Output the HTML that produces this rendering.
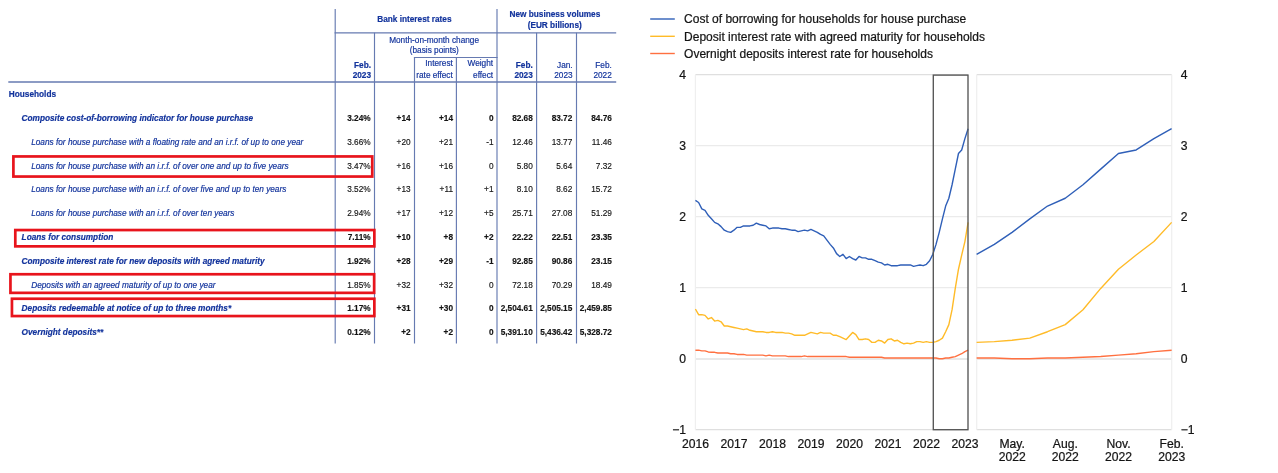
<!DOCTYPE html>
<html lang="en"><head><meta charset="utf-8"><title>Bank interest rates</title>
<style>
html,body{margin:0;padding:0;background:#fff;}
body{width:1278px;height:473px;position:relative;overflow:hidden;font-family:"Liberation Sans",Arial,sans-serif;}
#tbl{position:absolute;left:0;top:0;width:640px;height:360px;will-change:transform;}
#tbl .t{position:absolute;white-space:nowrap;font-size:8.25px;line-height:10px;height:10px;color:#12339c;-webkit-text-stroke:0.18px #12339c;}
#tbl .n{color:#141414;-webkit-text-stroke:0.15px #141414;text-align:right;}
#tbl .r{text-align:right;}
#tbl .c{text-align:center;}
#tbl .b{font-weight:bold;}
#tbl .i{font-style:italic;}
#tbl .vl{position:absolute;width:1px;background:#667ab1;}
#tbl .hl{position:absolute;background:#667ab1;}
svg{position:absolute;left:0;top:0;}
svg text{font-family:"Liberation Sans",Arial,sans-serif;font-size:12px;fill:#141414;stroke:#141414;stroke-width:0.22px;}
svg text.ax{font-size:12.15px;}
</style></head><body>
<div id="tbl">
<div class="t b c" style="top:15px;left:264.40px;width:300px;">Bank interest rates</div>
<div class="t b c" style="top:10px;left:404.90px;width:300px;">New business volumes</div>
<div class="t b c" style="top:21px;left:404.70px;width:300px;">(EUR billions)</div>
<div class="t c" style="top:36px;left:284.10px;width:300px;">Month-on-month change</div>
<div class="t c" style="top:46px;left:284.30px;width:300px;">(basis points)</div>
<div class="t b r" style="top:61px;left:171.00px;width:200px;">Feb.</div>
<div class="t b r" style="top:71px;left:171.00px;width:200px;">2023</div>
<div class="t r" style="top:59px;left:252.80px;width:200px;">Interest</div>
<div class="t r" style="top:71px;left:252.80px;width:200px;">rate effect</div>
<div class="t r" style="top:59px;left:293.10px;width:200px;">Weight</div>
<div class="t r" style="top:71px;left:293.10px;width:200px;">effect</div>
<div class="t b r" style="top:61px;left:332.80px;width:200px;">Feb.</div>
<div class="t b r" style="top:71px;left:332.80px;width:200px;">2023</div>
<div class="t r" style="top:61px;left:372.60px;width:200px;">Jan.</div>
<div class="t r" style="top:71px;left:372.60px;width:200px;">2023</div>
<div class="t r" style="top:61px;left:411.80px;width:200px;">Feb.</div>
<div class="t r" style="top:71px;left:411.80px;width:200px;">2022</div>
<div class="t b" style="top:90px;left:8.80px;">Households</div>
<div class="t b i" style="top:114px;left:21.60px;">Composite cost-of-borrowing indicator for house purchase</div>
<div class="t n b" style="top:114px;left:170.60px;width:200px;">3.24%</div>
<div class="t n b" style="top:114px;left:210.60px;width:200px;">+14</div>
<div class="t n b" style="top:114px;left:253.00px;width:200px;">+14</div>
<div class="t n b" style="top:114px;left:293.50px;width:200px;">0</div>
<div class="t n b" style="top:114px;left:332.80px;width:200px;">82.68</div>
<div class="t n b" style="top:114px;left:372.30px;width:200px;">83.72</div>
<div class="t n b" style="top:114px;left:411.90px;width:200px;">84.76</div>
<div class="t i" style="top:138px;left:31.20px;">Loans for house purchase with a floating rate and an i.r.f. of up to one year</div>
<div class="t n" style="top:138px;left:170.60px;width:200px;">3.66%</div>
<div class="t n" style="top:138px;left:210.60px;width:200px;">+20</div>
<div class="t n" style="top:138px;left:253.00px;width:200px;">+21</div>
<div class="t n" style="top:138px;left:293.50px;width:200px;">-1</div>
<div class="t n" style="top:138px;left:332.80px;width:200px;">12.46</div>
<div class="t n" style="top:138px;left:372.30px;width:200px;">13.77</div>
<div class="t n" style="top:138px;left:411.90px;width:200px;">11.46</div>
<div class="t i" style="top:162px;left:31.20px;">Loans for house purchase with an i.r.f. of over one and up to five years</div>
<div class="t n" style="top:162px;left:170.60px;width:200px;">3.47%</div>
<div class="t n" style="top:162px;left:210.60px;width:200px;">+16</div>
<div class="t n" style="top:162px;left:253.00px;width:200px;">+16</div>
<div class="t n" style="top:162px;left:293.50px;width:200px;">0</div>
<div class="t n" style="top:162px;left:332.80px;width:200px;">5.80</div>
<div class="t n" style="top:162px;left:372.30px;width:200px;">5.64</div>
<div class="t n" style="top:162px;left:411.90px;width:200px;">7.32</div>
<div class="t i" style="top:185px;left:31.20px;">Loans for house purchase with an i.r.f. of over five and up to ten years</div>
<div class="t n" style="top:185px;left:170.60px;width:200px;">3.52%</div>
<div class="t n" style="top:185px;left:210.60px;width:200px;">+13</div>
<div class="t n" style="top:185px;left:253.00px;width:200px;">+11</div>
<div class="t n" style="top:185px;left:293.50px;width:200px;">+1</div>
<div class="t n" style="top:185px;left:332.80px;width:200px;">8.10</div>
<div class="t n" style="top:185px;left:372.30px;width:200px;">8.62</div>
<div class="t n" style="top:185px;left:411.90px;width:200px;">15.72</div>
<div class="t i" style="top:209px;left:31.20px;">Loans for house purchase with an i.r.f. of over ten years</div>
<div class="t n" style="top:209px;left:170.60px;width:200px;">2.94%</div>
<div class="t n" style="top:209px;left:210.60px;width:200px;">+17</div>
<div class="t n" style="top:209px;left:253.00px;width:200px;">+12</div>
<div class="t n" style="top:209px;left:293.50px;width:200px;">+5</div>
<div class="t n" style="top:209px;left:332.80px;width:200px;">25.71</div>
<div class="t n" style="top:209px;left:372.30px;width:200px;">27.08</div>
<div class="t n" style="top:209px;left:411.90px;width:200px;">51.29</div>
<div class="t b i" style="top:233px;left:21.60px;">Loans for consumption</div>
<div class="t n b" style="top:233px;left:170.60px;width:200px;">7.11%</div>
<div class="t n b" style="top:233px;left:210.60px;width:200px;">+10</div>
<div class="t n b" style="top:233px;left:253.00px;width:200px;">+8</div>
<div class="t n b" style="top:233px;left:293.50px;width:200px;">+2</div>
<div class="t n b" style="top:233px;left:332.80px;width:200px;">22.22</div>
<div class="t n b" style="top:233px;left:372.30px;width:200px;">22.51</div>
<div class="t n b" style="top:233px;left:411.90px;width:200px;">23.35</div>
<div class="t b i" style="top:257px;left:21.60px;">Composite interest rate for new deposits with agreed maturity</div>
<div class="t n b" style="top:257px;left:170.60px;width:200px;">1.92%</div>
<div class="t n b" style="top:257px;left:210.60px;width:200px;">+28</div>
<div class="t n b" style="top:257px;left:253.00px;width:200px;">+29</div>
<div class="t n b" style="top:257px;left:293.50px;width:200px;">-1</div>
<div class="t n b" style="top:257px;left:332.80px;width:200px;">92.85</div>
<div class="t n b" style="top:257px;left:372.30px;width:200px;">90.86</div>
<div class="t n b" style="top:257px;left:411.90px;width:200px;">23.15</div>
<div class="t i" style="top:281px;left:31.20px;">Deposits with an agreed maturity of up to one year</div>
<div class="t n" style="top:281px;left:170.60px;width:200px;">1.85%</div>
<div class="t n" style="top:281px;left:210.60px;width:200px;">+32</div>
<div class="t n" style="top:281px;left:253.00px;width:200px;">+32</div>
<div class="t n" style="top:281px;left:293.50px;width:200px;">0</div>
<div class="t n" style="top:281px;left:332.80px;width:200px;">72.18</div>
<div class="t n" style="top:281px;left:372.30px;width:200px;">70.29</div>
<div class="t n" style="top:281px;left:411.90px;width:200px;">18.49</div>
<div class="t b i" style="top:304px;left:21.60px;">Deposits redeemable at notice of up to three months*</div>
<div class="t n b" style="top:304px;left:170.60px;width:200px;">1.17%</div>
<div class="t n b" style="top:304px;left:210.60px;width:200px;">+31</div>
<div class="t n b" style="top:304px;left:253.00px;width:200px;">+30</div>
<div class="t n b" style="top:304px;left:293.50px;width:200px;">0</div>
<div class="t n b" style="top:304px;left:332.80px;width:200px;">2,504.61</div>
<div class="t n b" style="top:304px;left:372.30px;width:200px;">2,505.15</div>
<div class="t n b" style="top:304px;left:411.90px;width:200px;">2,459.85</div>
<div class="t b i" style="top:328px;left:21.60px;">Overnight deposits**</div>
<div class="t n b" style="top:328px;left:170.60px;width:200px;">0.12%</div>
<div class="t n b" style="top:328px;left:210.60px;width:200px;">+2</div>
<div class="t n b" style="top:328px;left:253.00px;width:200px;">+2</div>
<div class="t n b" style="top:328px;left:293.50px;width:200px;">0</div>
<div class="t n b" style="top:328px;left:332.80px;width:200px;">5,391.10</div>
<div class="t n b" style="top:328px;left:372.30px;width:200px;">5,436.42</div>
<div class="t n b" style="top:328px;left:411.90px;width:200px;">5,328.72</div>
</div>
<svg width="1278" height="473" viewBox="0 0 1278 473">
<line x1="335.2" x2="335.2" y1="9" y2="343.6" stroke="#667ab1" stroke-width="1.15"/>
<line x1="374.5" x2="374.5" y1="32.8" y2="343.6" stroke="#667ab1" stroke-width="1.15"/>
<line x1="414.5" x2="414.5" y1="57.5" y2="343.6" stroke="#667ab1" stroke-width="1.15"/>
<line x1="456.4" x2="456.4" y1="57.5" y2="343.6" stroke="#667ab1" stroke-width="1.15"/>
<line x1="497.0" x2="497.0" y1="9" y2="343.6" stroke="#667ab1" stroke-width="1.15"/>
<line x1="536.6" x2="536.6" y1="32.8" y2="343.6" stroke="#667ab1" stroke-width="1.15"/>
<line x1="576.5" x2="576.5" y1="32.8" y2="343.6" stroke="#667ab1" stroke-width="1.15"/>
<line x1="334.6" x2="616.2" y1="32.8" y2="32.8" stroke="#667ab1" stroke-width="1.15"/>
<line x1="413.9" x2="497.6" y1="57.5" y2="57.5" stroke="#667ab1" stroke-width="1.15"/>
<line x1="8.3" x2="616.2" y1="82.0" y2="82.0" stroke="#667ab1" stroke-width="1.6"/>
<rect x="13.40" y="156.45" width="358.85" height="20.10" fill="none" stroke="#e8141c" stroke-width="2.7"/>
<rect x="15.30" y="230.05" width="359.05" height="16.30" fill="none" stroke="#e8141c" stroke-width="2.7"/>
<rect x="10.45" y="274.25" width="363.70" height="18.60" fill="none" stroke="#e8141c" stroke-width="2.7"/>
<rect x="11.95" y="298.75" width="362.40" height="17.30" fill="none" stroke="#e8141c" stroke-width="2.7"/>
<line x1="695.4" x2="968.0" y1="74.70" y2="74.70" stroke="#dfdfdf" stroke-width="1.2"/>
<line x1="976.7" x2="1171.7" y1="74.70" y2="74.70" stroke="#dfdfdf" stroke-width="1.2"/>
<line x1="695.4" x2="968.0" y1="145.70" y2="145.70" stroke="#ebebeb" stroke-width="1.2"/>
<line x1="976.7" x2="1171.7" y1="145.70" y2="145.70" stroke="#ebebeb" stroke-width="1.2"/>
<line x1="695.4" x2="968.0" y1="216.70" y2="216.70" stroke="#ebebeb" stroke-width="1.2"/>
<line x1="976.7" x2="1171.7" y1="216.70" y2="216.70" stroke="#ebebeb" stroke-width="1.2"/>
<line x1="695.4" x2="968.0" y1="287.70" y2="287.70" stroke="#ebebeb" stroke-width="1.2"/>
<line x1="976.7" x2="1171.7" y1="287.70" y2="287.70" stroke="#ebebeb" stroke-width="1.2"/>
<line x1="695.4" x2="968.0" y1="429.70" y2="429.70" stroke="#dfdfdf" stroke-width="1.2"/>
<line x1="976.7" x2="1171.7" y1="429.70" y2="429.70" stroke="#dfdfdf" stroke-width="1.2"/>
<line x1="695.4" x2="968.0" y1="359.00" y2="359.00" stroke="#e9e9e9" stroke-width="2"/>
<line x1="976.7" x2="1171.7" y1="359.00" y2="359.00" stroke="#e9e9e9" stroke-width="2"/>
<line x1="695.4" x2="695.4" y1="74.70" y2="429.70" stroke="#efefef" stroke-width="1.2"/>
<line x1="976.7" x2="976.7" y1="74.70" y2="429.70" stroke="#efefef" stroke-width="1.2"/>
<line x1="1171.7" x2="1171.7" y1="74.70" y2="429.70" stroke="#efefef" stroke-width="1.2"/>
<polyline points="695.40,350.18 698.61,350.18 701.82,350.89 705.02,350.89 708.23,351.95 711.44,352.31 714.65,352.31 717.86,353.02 721.07,353.02 724.27,353.02 727.48,353.02 730.69,353.73 733.90,353.73 737.11,354.44 740.32,354.44 743.52,354.44 746.73,355.15 749.94,355.15 753.15,355.15 756.36,355.15 759.57,355.15 762.77,355.15 765.98,355.86 769.19,355.15 772.40,355.86 775.61,355.86 778.82,355.86 782.02,355.86 785.23,355.86 788.44,356.57 791.65,356.57 794.86,356.57 798.07,356.57 801.27,356.57 804.48,355.86 807.69,356.57 810.90,356.57 814.11,356.57 817.32,356.57 820.52,356.57 823.73,356.57 826.94,356.57 830.15,356.57 833.36,356.57 836.57,356.57 839.77,356.57 842.98,356.57 846.19,356.57 849.40,357.28 852.61,357.28 855.82,357.28 859.02,357.28 862.23,357.28 865.44,357.28 868.65,357.28 871.86,357.28 875.07,357.28 878.27,357.28 881.48,357.28 884.69,357.99 887.90,357.99 891.11,357.99 894.32,357.99 897.52,357.99 900.73,357.99 903.94,357.99 907.15,357.99 910.36,357.99 913.57,357.99 916.77,357.99 919.98,357.99 923.19,357.99 926.40,357.99 929.61,357.99 932.82,357.99 936.02,357.99 939.23,358.70 942.44,358.70 945.65,357.99 948.86,357.99 952.07,357.28 955.27,356.57 958.48,355.15 961.69,353.73 964.90,351.60 968.11,350.18" fill="none" stroke="#ff7040" stroke-width="1.4" stroke-linejoin="round"/>
<polyline points="976.60,357.99 994.33,357.99 1012.06,358.70 1029.79,358.70 1047.52,357.99 1065.25,357.99 1082.98,357.28 1100.71,356.57 1118.44,355.15 1136.17,353.73 1153.90,351.60 1171.63,350.18" fill="none" stroke="#ff7040" stroke-width="1.4" stroke-linejoin="round"/>
<polyline points="695.40,309.00 698.61,314.68 701.82,314.68 705.02,315.39 708.23,318.94 711.44,317.52 714.65,321.07 717.86,320.36 721.07,321.78 724.27,326.04 727.48,326.04 730.69,326.75 733.90,327.46 737.11,328.17 740.32,328.88 743.52,329.59 746.73,328.88 749.94,330.30 753.15,331.01 756.36,331.72 759.57,331.72 762.77,331.72 765.98,332.43 769.19,332.43 772.40,331.72 775.61,332.43 778.82,332.43 782.02,332.43 785.23,333.14 788.44,333.14 791.65,333.85 794.86,335.27 798.07,335.27 801.27,335.27 804.48,335.27 807.69,333.85 810.90,332.43 814.11,333.14 817.32,333.85 820.52,332.43 823.73,333.14 826.94,333.14 830.15,333.14 833.36,335.27 836.57,335.27 839.77,336.69 842.98,338.11 846.19,339.53 849.40,335.98 852.61,332.43 855.82,334.56 859.02,339.53 862.23,339.53 865.44,338.82 868.65,339.53 871.86,342.37 875.07,342.37 878.27,340.24 881.48,340.95 884.69,343.08 887.90,339.53 891.11,338.82 894.32,340.95 897.52,340.24 900.73,342.37 903.94,343.79 907.15,343.08 910.36,343.79 913.57,343.08 916.77,341.66 919.98,341.66 923.19,342.37 926.40,341.66 929.61,342.37 932.82,342.37 936.02,341.66 939.23,340.24 942.44,338.11 945.65,331.72 948.86,324.62 952.07,309.71 955.27,288.41 958.48,269.24 961.69,255.04 964.90,241.55 968.11,222.38" fill="none" stroke="#ffbb28" stroke-width="1.4" stroke-linejoin="round"/>
<polyline points="976.60,342.37 994.33,341.66 1012.06,340.24 1029.79,338.11 1047.52,331.72 1065.25,324.62 1082.98,309.71 1100.71,288.41 1118.44,269.24 1136.17,255.04 1153.90,241.55 1171.63,222.38" fill="none" stroke="#ffbb28" stroke-width="1.4" stroke-linejoin="round"/>
<polyline points="695.40,200.37 698.61,202.50 701.82,208.89 705.02,210.31 708.23,215.28 711.44,218.83 714.65,222.38 717.86,223.80 721.07,226.64 724.27,230.19 727.48,231.61 730.69,232.32 733.90,230.19 737.11,227.35 740.32,227.35 743.52,225.93 746.73,225.93 749.94,225.93 753.15,225.22 756.36,223.09 759.57,224.51 762.77,225.22 765.98,225.93 769.19,228.77 772.40,228.06 775.61,228.06 778.82,228.06 782.02,228.77 785.23,228.77 788.44,229.48 791.65,230.19 794.86,230.19 798.07,231.61 801.27,230.90 804.48,230.19 807.69,230.90 810.90,229.48 814.11,230.90 817.32,232.32 820.52,234.45 823.73,235.87 826.94,240.13 830.15,244.39 833.36,247.94 836.57,253.62 839.77,256.46 842.98,254.33 846.19,258.59 849.40,256.46 852.61,258.59 855.82,260.01 859.02,256.46 862.23,257.88 865.44,257.88 868.65,259.30 871.86,259.30 875.07,260.72 878.27,262.14 881.48,262.85 884.69,264.98 887.90,264.27 891.11,265.69 894.32,265.69 897.52,265.69 900.73,264.98 903.94,264.98 907.15,264.98 910.36,264.98 913.57,266.40 916.77,265.69 919.98,264.98 923.19,265.69 926.40,264.27 929.61,260.72 932.82,254.33 936.02,244.39 939.23,232.32 942.44,218.83 945.65,206.05 948.86,198.24 952.07,184.75 955.27,169.13 958.48,153.51 961.69,149.96 964.90,138.60 968.11,128.66" fill="none" stroke="#2f5fb8" stroke-width="1.4" stroke-linejoin="round"/>
<polyline points="976.60,254.33 994.33,244.39 1012.06,232.32 1029.79,218.83 1047.52,206.05 1065.25,198.24 1082.98,184.75 1100.71,169.13 1118.44,153.51 1136.17,149.96 1153.90,138.60 1171.63,128.66" fill="none" stroke="#2f5fb8" stroke-width="1.4" stroke-linejoin="round"/>
<rect x="933.3" y="75.10" width="34.70" height="354.60" fill="none" stroke="#555555" stroke-width="1.35"/>
<text class="ax" x="686.0" y="79.30" text-anchor="end">4</text>
<text class="ax" x="1180.7" y="79.30">4</text>
<text class="ax" x="686.0" y="150.30" text-anchor="end">3</text>
<text class="ax" x="1180.7" y="150.30">3</text>
<text class="ax" x="686.0" y="221.30" text-anchor="end">2</text>
<text class="ax" x="1180.7" y="221.30">2</text>
<text class="ax" x="686.0" y="292.30" text-anchor="end">1</text>
<text class="ax" x="1180.7" y="292.30">1</text>
<text class="ax" x="686.0" y="363.30" text-anchor="end">0</text>
<text class="ax" x="1180.7" y="363.30">0</text>
<text class="ax" x="686.0" y="434.30" text-anchor="end">−1</text>
<text class="ax" x="1180.7" y="434.30">−1</text>
<text x="695.40" y="448.2" class="ax" text-anchor="middle">2016</text>
<text x="733.90" y="448.2" class="ax" text-anchor="middle">2017</text>
<text x="772.40" y="448.2" class="ax" text-anchor="middle">2018</text>
<text x="810.90" y="448.2" class="ax" text-anchor="middle">2019</text>
<text x="849.40" y="448.2" class="ax" text-anchor="middle">2020</text>
<text x="887.90" y="448.2" class="ax" text-anchor="middle">2021</text>
<text x="926.40" y="448.2" class="ax" text-anchor="middle">2022</text>
<text x="964.90" y="448.2" class="ax" text-anchor="middle">2023</text>
<text x="1012.16" y="448.2" class="ax" text-anchor="middle">May.</text>
<text x="1012.16" y="460.8" class="ax" text-anchor="middle">2022</text>
<text x="1065.35" y="448.2" class="ax" text-anchor="middle">Aug.</text>
<text x="1065.35" y="460.8" class="ax" text-anchor="middle">2022</text>
<text x="1118.54" y="448.2" class="ax" text-anchor="middle">Nov.</text>
<text x="1118.54" y="460.8" class="ax" text-anchor="middle">2022</text>
<text x="1171.73" y="448.2" class="ax" text-anchor="middle">Feb.</text>
<text x="1171.73" y="460.8" class="ax" text-anchor="middle">2023</text>
<line x1="650.2" x2="674.8" y1="19.0" y2="19.0" stroke="#2f5fb8" stroke-width="1.4"/>
<text x="684.1" y="23.30">Cost of borrowing for households for house purchase</text>
<line x1="650.2" x2="674.8" y1="36.3" y2="36.3" stroke="#ffbb28" stroke-width="1.4"/>
<text x="684.1" y="40.60">Deposit interest rate with agreed maturity for households</text>
<line x1="650.2" x2="674.8" y1="53.5" y2="53.5" stroke="#ff7040" stroke-width="1.4"/>
<text x="684.1" y="57.80">Overnight deposits interest rate for households</text>
</svg>
</body></html>
